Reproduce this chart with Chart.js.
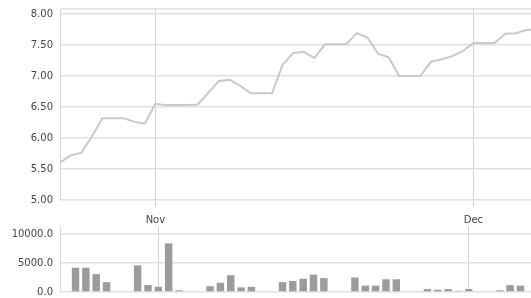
<!DOCTYPE html>
<html>
<head>
<meta charset="utf-8">
<script src="https://cdn.jsdelivr.net/npm/chart.js"></script>
<style>
    html, body { margin: 0; padding: 0; overflow: hidden; background: #fff; }
    #priceChart { position: absolute; left: 0; top: 0; }
    #volumeChart { position: absolute; left: 0; top: 224px; }
</style>
</head>
<body>
<canvas id="priceChart" width="540" height="224"></canvas>
<canvas id="volumeChart" width="540" height="74"></canvas>
<script>
// one entry per calendar day, Oct 23 .. Dec 7
const days = [
    "10-23", "10-24", "10-25", "10-26", "10-27", "10-28", "10-29", "10-30", "10-31",
    "11-01", "11-02", "11-03", "11-04", "11-05", "11-06", "11-07", "11-08", "11-09", "11-10",
    "11-11", "11-12", "11-13", "11-14", "11-15", "11-16", "11-17", "11-18", "11-19", "11-20",
    "11-21", "11-22", "11-23", "11-24", "11-25", "11-26", "11-27", "11-28", "11-29", "11-30",
    "12-01", "12-02", "12-03", "12-04", "12-05", "12-06", "12-07"
];
const monthLabels = { "11-01": "Nov", "12-01": "Dec" };

// closing price
const price = [
    5.60, 5.72, 5.76, 6.02, 6.32, 6.32, 6.32, 6.26, 6.23,
    6.55, 6.53, 6.53, 6.53, 6.54, 6.73, 6.92, 6.94, 6.84, 6.72,
    6.72, 6.72, 7.18, 7.37, 7.39, 7.29, 7.51, 7.51, 7.51, 7.69,
    7.62, 7.36, 7.30, 7.00, 7.00, 7.00, 7.23, 7.27, 7.32, 7.40,
    7.53, 7.53, 7.53, 7.68, 7.69, 7.74, 7.75
];

// traded volume
const volume = [
    0, 4200, 4200, 3100, 1700, 0, 0, 4600, 1200,
    900, 8400, 300, 0, 0, 1000, 1600, 2900, 800, 900,
    0, 0, 1700, 1900, 2300, 3000, 2400, 0, 0, 2500,
    1100, 1100, 2200, 2200, 0, 0, 500, 400, 500, 200,
    500, 0, 0, 300, 1200, 1100, 0
];

// axis ticks
const priceTicks = [5.00, 5.50, 6.00, 6.50, 7.00, 7.50, 8.00];
const volumeTicks = [0, 5000, 10000];

Chart.defaults.font.family = "'DejaVu Sans', sans-serif";
Chart.defaults.font.size = 10;
Chart.defaults.color = "#444";

const gridColor = "#e0e0e0";
const monthLineColor = "#d2d2d2";
const priceMax = 8.08;

// only draw vertical lines at month starts
function monthGrid(ctx) {
    return monthLabels[days[ctx.index]] ? monthLineColor : "rgba(0,0,0,0)";
}

function fixYAxis(scale) {
    scale.width = 60;
    scale.paddingTop = 0;
    scale.paddingBottom = 0;
}

new Chart(document.getElementById("priceChart"), {
    type: "line",
    data: {
        labels: days,
        datasets: [{
            data: price,
            borderColor: "#c9c9c9",
            borderWidth: 2,
            pointRadius: 0,
            tension: 0,
            fill: false,
        }],
    },
    options: {
        responsive: false,
        animation: false,
        layout: { padding: { top: 9, right: 3, left: 0, bottom: 0 } },
        plugins: { legend: { display: false }, tooltip: { enabled: false } },
        scales: {
            x: {
                offset: false,
                grid: { color: monthGrid, tickLength: 7 },
                border: { display: false },
                ticks: {
                    autoSkip: false,
                    maxRotation: 0,
                    padding: 7,
                    callback: (val, i) => monthLabels[days[i]] || "",
                },
                afterFit: (scale) => {
                    scale.height = 24;
                    scale.paddingLeft = 0;
                    scale.paddingRight = 0;
                },
            },
            y: {
                min: 5,
                max: priceMax,
                grid: { color: gridColor, lineWidth: 1.5, drawTicks: false },
                border: { color: "#d8d8d8" },
                ticks: {
                    padding: 7,
                    callback: (v) => (v === priceMax ? "" : v.toFixed(2)),
                },
                // extra unlabeled tick at the top gives the frame line
                afterBuildTicks: (scale) => {
                    scale.ticks = priceTicks.concat([priceMax]).map((v) => ({ value: v }));
                },
                afterFit: fixYAxis,
            },
        },
    },
});

new Chart(document.getElementById("volumeChart"), {
    type: "bar",
    data: {
        labels: days,
        datasets: [{
            data: volume,
            backgroundColor: "#9c9c9c",
            borderWidth: 0,
        }],
    },
    options: {
        responsive: false,
        animation: false,
        layout: { padding: { top: 2, right: 4, left: 0, bottom: 0 } },
        plugins: { legend: { display: false }, tooltip: { enabled: false } },
        scales: {
            x: {
                grid: { color: monthGrid, offset: false, drawTicks: false },
                border: { display: false },
                ticks: { display: false },
                afterFit: (scale) => {
                    scale.height = 6;
                    scale.paddingLeft = 0;
                    scale.paddingRight = 0;
                },
            },
            y: {
                min: 0,
                max: 11400,
                grid: { color: gridColor, lineWidth: 1.5, drawTicks: false },
                border: { color: "#d8d8d8" },
                ticks: {
                    padding: 7,
                    callback: (v) => v.toFixed(1),
                },
                afterBuildTicks: (scale) => {
                    scale.ticks = volumeTicks.map((v) => ({ value: v }));
                },
                afterFit: fixYAxis,
            },
        },
    },
});
</script>
</body>
</html>
